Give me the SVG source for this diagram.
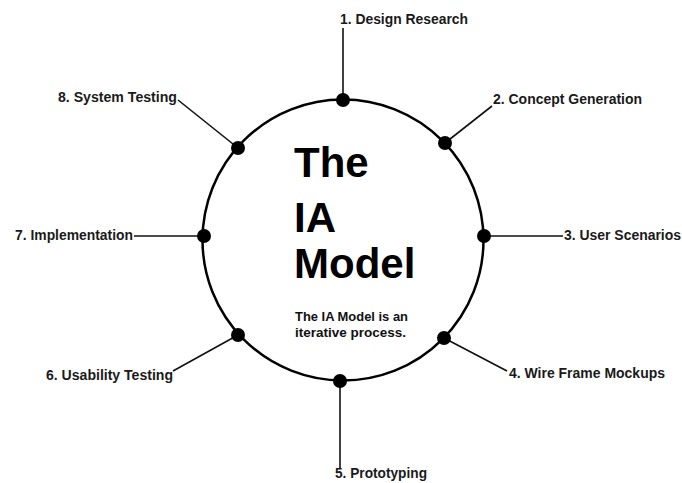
<svg xmlns="http://www.w3.org/2000/svg" width="682" height="483" viewBox="0 0 682 483">
  <style>
    .ring { fill: none; stroke: #000; stroke-width: 2.5; }
    .dot { fill: #000; }
    .lead { stroke: #111; stroke-width: 1.6; fill: none; }
    .label { font-family: "Liberation Sans", Arial, sans-serif; font-weight: bold; font-size: 14px; fill: #1a1a1a; }
    .title { font-family: "Liberation Sans", Arial, sans-serif; font-weight: bold; font-size: 42px; fill: #000; }
    .note { font-family: "Liberation Sans", Arial, sans-serif; font-weight: bold; font-size: 13px; fill: #111; }
  </style>
  <rect width="682" height="483" fill="#fff"/>

  <!-- the cycle -->
  <circle class="ring" cx="343" cy="240" r="140.5"/>

  <!-- leader lines from each stage point to its label -->
  <g id="connectors">
    <line class="lead" x1="343" y1="100" x2="343" y2="28"/>
    <line class="lead" x1="445" y1="143" x2="492" y2="106"/>
    <line class="lead" x1="484" y1="236" x2="563" y2="236"/>
    <line class="lead" x1="444" y1="338" x2="507" y2="371"/>
    <line class="lead" x1="340" y1="381" x2="340" y2="468"/>
    <line class="lead" x1="238" y1="335" x2="173" y2="371"/>
    <line class="lead" x1="204" y1="236" x2="134" y2="236"/>
    <line class="lead" x1="238" y1="148" x2="178" y2="100"/>
  </g>

  <g id="stage1">
    <circle class="dot" cx="343" cy="100" r="7"/>
    <text class="label" x="340" y="24" textLength="128" lengthAdjust="spacingAndGlyphs">1. Design Research</text>
  </g>
  <g id="stage2">
    <circle class="dot" cx="445" cy="143" r="7"/>
    <text class="label" x="493" y="104" textLength="149" lengthAdjust="spacingAndGlyphs">2. Concept Generation</text>
  </g>
  <g id="stage3">
    <circle class="dot" cx="484" cy="236" r="7"/>
    <text class="label" x="564" y="240" textLength="117" lengthAdjust="spacingAndGlyphs">3. User Scenarios</text>
  </g>
  <g id="stage4">
    <circle class="dot" cx="444" cy="338" r="7"/>
    <text class="label" x="509" y="378" textLength="156" lengthAdjust="spacingAndGlyphs">4. Wire Frame Mockups</text>
  </g>
  <g id="stage5">
    <circle class="dot" cx="340" cy="381" r="7"/>
    <text class="label" x="335" y="478" textLength="92" lengthAdjust="spacingAndGlyphs">5. Prototyping</text>
  </g>
  <g id="stage6">
    <circle class="dot" cx="238" cy="335" r="7"/>
    <text class="label" x="46" y="380" textLength="127" lengthAdjust="spacingAndGlyphs">6. Usability Testing</text>
  </g>
  <g id="stage7">
    <circle class="dot" cx="204" cy="236" r="7"/>
    <text class="label" x="15" y="240" textLength="118" lengthAdjust="spacingAndGlyphs">7. Implementation</text>
  </g>
  <g id="stage8">
    <circle class="dot" cx="238" cy="148" r="7"/>
    <text class="label" x="58" y="102" textLength="119" lengthAdjust="spacingAndGlyphs">8. System Testing</text>
  </g>

  <!-- centre heading and caption -->
  <g id="heading">
    <text class="title" x="294" y="177">The</text>
    <text class="title" x="294" y="232">IA</text>
    <text class="title" x="294" y="278">Model</text>
    <text class="note" x="295" y="321" textLength="113" lengthAdjust="spacingAndGlyphs">The IA Model is an</text>
    <text class="note" x="295" y="337" textLength="111" lengthAdjust="spacingAndGlyphs">iterative process.</text>
  </g>
</svg>
